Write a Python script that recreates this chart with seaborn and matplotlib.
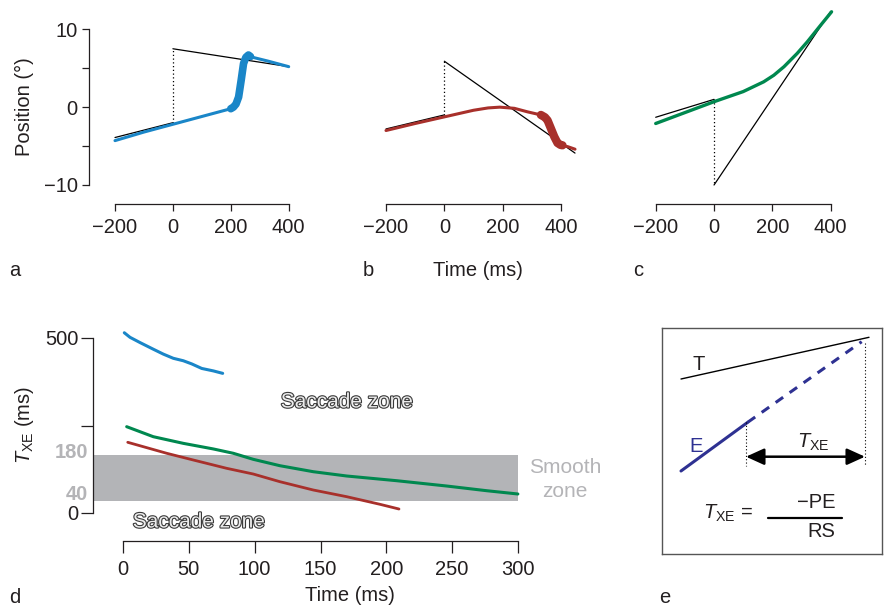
import matplotlib
matplotlib.use("Agg")
import matplotlib.pyplot as plt
import seaborn as sns
import numpy as np
from matplotlib import patheffects as pe

# ---------------- data ----------------
# panel a (blue)
a_tgt_pre_t = [-200, 0];  a_tgt_pre_y = [-3.9, -2.0]
a_tgt_step_y = [-2.0, 7.5]
a_tgt_post_t = [0, 400];  a_tgt_post_y = [7.5, 5.2]
a_eye_t = [-200, -100, 0, 100, 200]
a_eye_y = [-4.3, -3.2, -2.2, -1.2, -0.2]
a_sac_t = [200, 209, 218, 227, 236, 244, 252, 261, 268]
a_sac_y = [-0.2, 0.0, 0.4, 1.3, 3.5, 5.6, 6.4, 6.7, 6.5]
a_post_t = [265, 330, 400]
a_post_y = [6.5, 5.9, 5.2]

# panel b (red)
b_tgt_pre_t = [-200, 0];  b_tgt_pre_y = [-2.8, -1.0]
b_tgt_step_y = [-1.0, 5.9]
b_tgt_post_t = [0, 448];  b_tgt_post_y = [5.9, -5.9]
b_eye_t = [-200, -100, 0, 100, 150, 190, 240, 285, 331]
b_eye_y = [-3.0, -2.1, -1.25, -0.4, -0.1, 0.0, -0.15, -0.6, -1.0]
b_sac_t = [331, 345, 354, 365, 377, 388, 398, 405]
b_sac_y = [-1.0, -1.3, -1.7, -2.7, -3.8, -4.6, -4.85, -4.9]
b_post_t = [405, 425, 448]
b_post_y = [-4.9, -5.1, -5.4]

# panel c (green)
c_tgt_pre_t = [-200, 0];  c_tgt_pre_y = [-1.3, 1.0]
c_tgt_step_y = [1.0, -10.0]
c_tgt_post_t = [0, 400];  c_tgt_post_y = [-10.0, 12.3]
c_eye_t = [-200, -100, 0, 100, 170, 205, 240, 285, 320, 365, 403]
c_eye_y = [-2.1, -0.7, 0.7, 2.0, 3.25, 4.1, 5.2, 6.9, 8.4, 10.5, 12.25]

pos_ticks = [-10, -5, 0, 5, 10]
pos_ticklabels = ["\u221210", "", "0", "", "10"]
time_ticks_top = [-200, 0, 200, 400]
time_ticklabels_top = ["\u2212200", "0", "200", "400"]

# panel d
d_blue_t = [1.0, 5.3, 12.9, 23.0, 30.6, 38.2, 45.8, 52.2, 59.8, 68.6, 75.7]
d_blue_v = [515, 502, 487, 468, 454, 442, 435, 426, 413, 406, 399]
d_green_t = [2.8, 23.0, 45.8, 68.6, 83.8, 98.9, 119.2, 144.5, 169.9, 207.8, 245.8, 276.2, 299.9]
d_green_v = [246.6, 218, 199, 183, 170.6, 153.4, 135.1, 118, 105.7, 92.3, 77.1, 63.7, 54.3]
d_red_t = [3.6, 33.2, 53.4, 78.7, 98.9, 119.2, 144.5, 169.9, 195.1, 209.6]
d_red_v = [202, 170.6, 151.4, 127.7, 111.4, 89.4, 65.7, 46.6, 24.9, 11.4]
smooth_lo, smooth_hi = 35, 166
d_yticks = [0, 250, 500]
d_yticklabels = ["0", "", "500"]
d_xticks = [0, 50, 100, 150, 200, 250, 300]

# ---------------- style ----------------
sns.set_style("ticks")
plt.rcParams["font.family"] = ["Liberation Sans", "DejaVu Sans"]
plt.rcParams["mathtext.fontset"] = "custom"
plt.rcParams["mathtext.rm"] = "Liberation Sans"
plt.rcParams["mathtext.it"] = "Liberation Sans:italic"
plt.rcParams["mathtext.bf"] = "Liberation Sans:bold"

W, H = 885, 610
DARK = "#231f20"
BLUE = "#1a86c8"
RED = "#a8302b"
GREEN = "#00884f"
NAVY = "#2e3192"
BAND = "#b3b4b7"
LGRAY = "#b4b4b7"
FS = 14.5

fig = plt.figure(figsize=(W / 100, H / 100), dpi=100)


def px_axes(l, t, r, b):
    return fig.add_axes([l / W, 1 - b / H, (r - l) / W, (b - t) / H])


def ftext(x, y, s, **kw):
    kw.setdefault("fontsize", FS)
    kw.setdefault("color", DARK)
    fig.text(x / W, 1 - y / H, s, **kw)


def line(ax, x, y, **kw):
    sns.lineplot(x=x, y=y, ax=ax, estimator=None, sort=False, legend=False, **kw)
    ax.lines[-1].set_clip_on(False)


def style(ax, lpx, bpx, tlen, show_left=True, xpad=4.5, ypad=3):
    for s in ["top", "right"]:
        ax.spines[s].set_visible(False)
    ax.spines["left"].set_position(("outward", lpx * 0.72))
    ax.spines["bottom"].set_position(("outward", bpx * 0.72))
    for s in ["left", "bottom"]:
        ax.spines[s].set_linewidth(0.9)
        ax.spines[s].set_color(DARK)
    ax.tick_params(axis="both", direction="out", length=tlen, width=0.9,
                   labelsize=FS, colors=DARK)
    ax.tick_params(axis="x", pad=xpad)
    ax.tick_params(axis="y", pad=ypad)
    if not show_left:
        ax.spines["left"].set_visible(False)
        ax.tick_params(axis="y", left=False, labelleft=False)
    ax.patch.set_visible(False)
    ax.set_xlabel("")
    ax.set_ylabel("")


# ---------------- panels a-c ----------------
top, bot = 29.3, 185
ax_a = px_axes(115, top, 288.7, bot)
ax_b = px_axes(386, top, 561, bot)
ax_c = px_axes(655.7, top, 830.7, bot)

specs = [
    (ax_a, a_tgt_pre_t, a_tgt_pre_y, a_tgt_step_y, a_tgt_post_t, a_tgt_post_y, BLUE),
    (ax_b, b_tgt_pre_t, b_tgt_pre_y, b_tgt_step_y, b_tgt_post_t, b_tgt_post_y, RED),
    (ax_c, c_tgt_pre_t, c_tgt_pre_y, c_tgt_step_y, c_tgt_post_t, c_tgt_post_y, GREEN),
]
for ax, tpre, ypre, ystep, tpost, ypost, col in specs:
    line(ax, tpre, ypre, color="black", linewidth=0.9)
    line(ax, [tpre[-1], tpre[-1]], ystep, color="black", linewidth=0.9,
         linestyle=(0, (1, 2)))
    line(ax, tpost, ypost, color="black", linewidth=0.9)

line(ax_a, a_eye_t, a_eye_y, color=BLUE, linewidth=2.2)
line(ax_a, a_post_t, a_post_y, color=BLUE, linewidth=2.2)
line(ax_a, a_sac_t, a_sac_y, color=BLUE, linewidth=5.5, solid_capstyle="round",
     solid_joinstyle="round")

line(ax_b, b_eye_t, b_eye_y, color=RED, linewidth=2.2)
line(ax_b, b_post_t, b_post_y, color=RED, linewidth=2.2)
line(ax_b, b_sac_t, b_sac_y, color=RED, linewidth=6, solid_capstyle="round",
     solid_joinstyle="round")

line(ax_c, c_eye_t, c_eye_y, color=GREEN, linewidth=2.4, solid_joinstyle="round")

for ax, show in [(ax_a, True), (ax_b, False), (ax_c, False)]:
    ax.set_xlim(-200, 400)
    ax.set_ylim(-10, 10)
    style(ax, 25.7, 19.3, 5.3, show_left=show)
    ax.set_xticks(time_ticks_top)
    ax.set_xticklabels(time_ticklabels_top)
ax_a.set_yticks(pos_ticks)
ax_a.set_yticklabels(pos_ticklabels)

ftext(24, 107, "Position (\u00b0)", rotation=90, ha="center", va="center")
ftext(478, 276, "Time (ms)", ha="center", va="baseline")
ftext(15, 276, "a", ha="center", va="baseline")
ftext(368, 276, "b", ha="center", va="baseline")
ftext(638, 276, "c", ha="center", va="baseline")

# ---------------- panel d ----------------
ax_d = px_axes(123, 338, 518, 513)
ax_d.set_xlim(0, 300)
ax_d.set_ylim(0, 500)
d_left_px = 30
band_left = -d_left_px / ((518 - 123) / 300.0)
ax_d.fill_between([band_left, 300], smooth_lo, smooth_hi, color=BAND,
                  linewidth=0, zorder=0, clip_on=False)
line(ax_d, d_blue_t, d_blue_v, color=BLUE, linewidth=2.2)
line(ax_d, d_green_t, d_green_v, color=GREEN, linewidth=2.2)
line(ax_d, d_red_t, d_red_v, color=RED, linewidth=2.0)
style(ax_d, d_left_px, 28, 8.5, xpad=5.5, ypad=2)
ax_d.set_xticks(d_xticks)
ax_d.set_yticks(d_yticks)
ax_d.set_yticklabels(d_yticklabels)

ftext(88, 452, "180", ha="right", va="center", color=LGRAY, fontweight="bold")
ftext(88, 494, "40", ha="right", va="center", color=LGRAY, fontweight="bold")
ftext(25, 425, r"$T_{\mathrm{XE}}$ (ms)", rotation=90, ha="center", va="center")
ftext(350, 601, "Time (ms)", ha="center", va="baseline")
ftext(15, 603, "d", ha="center", va="baseline")

outline = [pe.withStroke(linewidth=1.6, foreground="#3a3a3a")]
ftext(347, 402, "Saccade zone", ha="center", va="center", color="#ececec",
      fontsize=15, path_effects=outline)
ftext(199, 522, "Saccade zone", ha="center", va="center", color="#ececec",
      fontsize=15, path_effects=outline)
ftext(565, 473, "Smooth", ha="center", va="baseline", color=LGRAY, fontsize=15)
ftext(565, 497, "zone", ha="center", va="baseline", color=LGRAY, fontsize=15)

# ---------------- panel e ----------------
EL, ET, ER, EB = 662, 328, 882, 554
ax_e = px_axes(EL, ET, ER, EB)
ax_e.set_xlim(EL, ER)
ax_e.set_ylim(EB, ET)
ax_e.set_xticks([])
ax_e.set_yticks([])
for s in ax_e.spines.values():
    s.set_color("#555555")
    s.set_linewidth(1.0)

e_T_x = [681, 869];  e_T_y = [379, 337.3]
e_E_x = [681, 747.7]; e_E_y = [471, 422.3]
e_Ed_x = [747.7, 861.7]; e_Ed_y = [422.3, 341.7]
line(ax_e, e_T_x, e_T_y, color="black", linewidth=1.0)
line(ax_e, e_E_x, e_E_y, color=NAVY, linewidth=2.2)
line(ax_e, e_Ed_x, e_Ed_y, color=NAVY, linewidth=2.2, linestyle=(0, (3, 2.6)))
line(ax_e, [746, 746], [422, 466], color="black", linewidth=0.8,
     linestyle=(0, (1, 2)))
line(ax_e, [865, 865], [343, 466], color="black", linewidth=0.8,
     linestyle=(0, (1, 2)))
ax_e.annotate("", xy=(746, 456.7), xytext=(865, 456.7),
              arrowprops=dict(arrowstyle="<|-|>,head_length=0.55,head_width=0.25",
                              color="black", lw=1.8, mutation_scale=20,
                              shrinkA=0, shrinkB=0))
line(ax_e, [768.3, 841.7], [517.7, 517.7], color="black", linewidth=1.6)

ftext(699, 370, "T", ha="center", va="baseline")
ftext(696, 452, "E", ha="center", va="baseline", color=NAVY)
ftext(797, 448, r"$T_{\mathrm{XE}}$", ha="left", va="baseline")
ftext(728, 519, r"$T_{\mathrm{XE}}$ =", ha="center", va="baseline")
ftext(816, 508, "\u2212PE", ha="center", va="baseline")
ftext(821, 537, "RS", ha="center", va="baseline")
ftext(665, 603, "e", ha="center", va="baseline")

fig.savefig("out.png", dpi=100)
